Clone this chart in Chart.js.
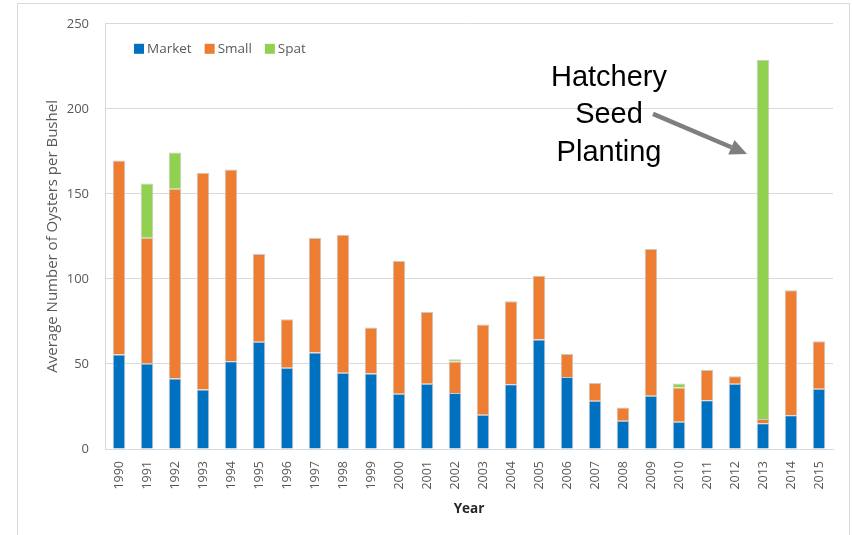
<!DOCTYPE html>
<html>
<head>
<meta charset="utf-8">
<script src="https://cdn.jsdelivr.net/npm/chart.js@4/dist/chart.umd.min.js"></script>
<style>
  html, body { margin: 0; padding: 0; background: #fff; }
  #wrap { width: 852px; height: 535px; }
</style>
</head>
<body>
<div id="wrap"><canvas id="oysterChart" width="852" height="535"></canvas></div>
<script>
// --- DATA ---
const years = ['1990','1991','1992','1993','1994','1995','1996','1997','1998','1999','2000','2001','2002',
               '2003','2004','2005','2006','2007','2008','2009','2010','2011','2012','2013','2014','2015'];
const market = [55.6, 50.3, 41.5, 35.0, 51.6, 63.0, 47.7, 56.7, 44.8, 44.4, 32.5, 38.3, 32.9,
                20.1, 38.0, 64.4, 42.3, 28.4, 16.6, 31.3, 16.0, 28.6, 38.3, 15.1, 19.8, 35.4];
const small = [114.0, 73.9, 111.5, 127.4, 112.7, 51.6, 28.6, 67.3, 81.2, 27.0, 78.0, 42.3, 18.6,
               53.1, 48.9, 37.5, 13.6, 10.4, 7.8, 86.3, 20.2, 17.8, 4.5, 2.5, 73.5, 28.0];
const spat = [0, 31.9, 21.3, 0, 0, 0, 0, 0, 0, 0, 0, 0, 1.3,
              0, 0, 0, 0, 0, 0, 0, 2.3, 0, 0, 211.3, 0, 0];
const yTicks = [0, 50, 100, 150, 200, 250];
const noteLines = ['Hatchery', 'Seed', 'Planting'];

const textColor = '#595959';
const gridColor = '#d9d9d9';
const font = '"Open Sans", sans-serif';

// --- PLUGINS ---
const frame = {
    id: 'frame',
    beforeDraw(chart) {
        const ctx = chart.ctx;
        ctx.save();
        ctx.fillStyle = '#fff';
        ctx.fillRect(0, 0, chart.width, chart.height);
        ctx.strokeStyle = gridColor;
        ctx.lineWidth = 1;
        ctx.strokeRect(17.5, 3.5, 832, 560);
        ctx.restore();
    }
};

// legend drawn inside the plot area, top left
const innerLegend = {
    id: 'innerLegend',
    afterDraw(chart) {
        const ctx = chart.ctx;
        const area = chart.chartArea;
        ctx.save();
        ctx.font = '13.5px ' + font;
        ctx.textBaseline = 'middle';
        let x = area.left + 29;
        const y = area.top + 25;
        chart.data.datasets.forEach(ds => {
            ctx.fillStyle = ds.backgroundColor;
            ctx.fillRect(x, y - 5, 10, 10);
            ctx.fillStyle = textColor;
            ctx.fillText(ds.label, x + 13, y);
            x += 13 + ctx.measureText(ds.label).width + 13;
        });
        ctx.restore();
    }
};

// "Hatchery Seed Planting" callout with arrow
const callout = {
    id: 'callout',
    afterDraw(chart) {
        const ctx = chart.ctx;
        const xs = chart.scales.x, ys = chart.scales.y;
        ctx.save();
        ctx.font = '29px "Liberation Sans", Arial, sans-serif';
        ctx.fillStyle = '#000';
        ctx.textAlign = 'center';
        ctx.textBaseline = 'alphabetic';
        const cx = xs.getPixelForValue(17.5);
        const base = ys.getPixelForValue(213.6);
        noteLines.forEach((t, i) => ctx.fillText(t, cx, base + i * 37.5));

        // arrow
        const x0 = xs.getPixelForValue(19) + 2, y0 = ys.getPixelForValue(197);
        const x1 = xs.getPixelForValue(23) - 16, y1 = ys.getPixelForValue(173.5);
        const ang = Math.atan2(y1 - y0, x1 - x0);
        const head = 17;
        ctx.strokeStyle = '#7f7f7f';
        ctx.fillStyle = '#7f7f7f';
        ctx.lineWidth = 4.5;
        ctx.beginPath();
        ctx.moveTo(x0, y0);
        ctx.lineTo(x1 - head * Math.cos(ang), y1 - head * Math.sin(ang));
        ctx.stroke();
        ctx.beginPath();
        ctx.moveTo(x1, y1);
        ctx.lineTo(x1 - head * Math.cos(ang) + 8 * Math.sin(ang), y1 - head * Math.sin(ang) - 8 * Math.cos(ang));
        ctx.lineTo(x1 - head * Math.cos(ang) - 8 * Math.sin(ang), y1 - head * Math.sin(ang) + 8 * Math.cos(ang));
        ctx.closePath();
        ctx.fill();
        ctx.restore();
    }
};

// --- CHART ---
const barStyle = { borderColor: '#c9c9c9', borderWidth: 1, barPercentage: 0.45, categoryPercentage: 1 };

new Chart(document.getElementById('oysterChart'), {
    type: 'bar',
    data: {
        labels: years,
        datasets: [
            { label: 'Market', data: market, backgroundColor: '#0070c0', ...barStyle },
            { label: 'Small', data: small, backgroundColor: '#ed7d31', ...barStyle },
            { label: 'Spat', data: spat, backgroundColor: '#92d050', ...barStyle }
        ]
    },
    options: {
        responsive: false,
        animation: false,
        layout: { padding: { left: 18, top: 23, right: 19, bottom: 14 } },
        plugins: { legend: { display: false }, tooltip: { enabled: false } },
        scales: {
            x: {
                stacked: true,
                grid: { display: false },
                border: { color: gridColor },
                ticks: { color: textColor, font: { family: font, size: 12.5 }, minRotation: 90, maxRotation: 90, padding: 4 },
                title: { display: true, text: 'Year', color: '#262626', font: { family: font, size: 13.5, weight: 'bold' }, padding: { top: 16 } },
                afterFit(s) { s.height = 72; }
            },
            y: {
                stacked: true,
                min: 0,
                max: 250,
                afterBuildTicks(s) { s.ticks = yTicks.map(v => ({ value: v })); },
                grid: { color: gridColor, drawTicks: false },
                border: { color: gridColor },
                ticks: { color: textColor, font: { family: font, size: 13 }, padding: 16 },
                title: { display: true, text: 'Average Number of Oysters per Bushel', color: textColor,
                         font: { family: font, size: 15 }, padding: { top: 26, bottom: 0 } },
                afterFit(s) { s.width = 87; }
            }
        }
    },
    plugins: [frame, innerLegend, callout]
});
</script>
</body>
</html>
